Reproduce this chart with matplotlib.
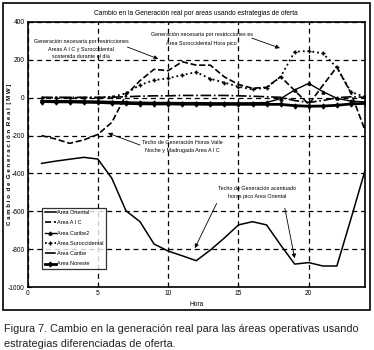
import matplotlib
matplotlib.use("Agg")
import matplotlib.pyplot as plt
from matplotlib.patches import Rectangle

plt.rcParams['axes.unicode_minus'] = False
plt.rcParams['font.family'] = ['Liberation Sans', 'DejaVu Sans']

hours = list(range(1, 25))
oriental = [-347, -335, -325, -315, -324, -426, -597, -655, -773, -810, -835, -861,
            -805, -741, -672, -655, -672, -778, -879, -871, -889, -889, -640, -385]
aic = [-200, -218, -241, -223, -194, -130, 14, 90, 150, 143, 190, 172,
       172, 110, 70, 50, 55, 111, 38, -35, 65, 162, 25, -172]
caribe2 = [-15, -16, -16, -17, -18, -20, -22, -24, -25, -25, -26, -26,
           -27, -27, -27, -27, -25, -5, 41, 76, 32, -3, -18, -22]
suroccidental = [0, 0, 0, 0, 0, 5, 23, 67, 93, 102, 120, 135,
                 100, 80, 58, 44, 52, 111, 243, 247, 234, 160, 30, 5]
caribe = [2, 2, 2, 2, 2, 3, 5, 8, 10, 10, 12, 12,
          12, 12, 10, 8, 5, 2, -15, -25, -15, 0, 5, 2]
noreste = [-20, -22, -22, -24, -25, -28, -30, -32, -33, -33, -34, -34,
           -35, -35, -35, -35, -35, -35, -42, -45, -44, -40, -33, -30]

series = [
    ("Area Oriental", oriental, dict(ls='-', lw=1.1)),
    ("Area A I C", aic, dict(ls='--', lw=1.2)),
    ("Area Caribe2", caribe2, dict(ls='-', lw=1.0, marker='^', ms=2.2)),
    ("Area Suroccidental", suroccidental, dict(ls=':', lw=1.3, marker='+', ms=3)),
    ("Area Caribe", caribe, dict(ls='-.', lw=1.2)),
    ("Area Noreste", noreste, dict(ls='-', lw=2.0, marker='d', ms=2.5)),
]

fig = plt.figure(figsize=(3.74, 3.5), dpi=100)
fig.patches.append(Rectangle((3/374, 1-310/350), 367/374, 307/350, transform=fig.transFigure,
                             fill=False, ec='black', lw=1.2))
ax = fig.add_axes([27.5/374, 1-287/350, 337.5/374, 265/350])

for name, vals, st in series:
    ax.plot(hours, vals, color='black', label=name, **st)

ax.set_xlim(0, 24)
ax.set_ylim(-1000, 400)
ax.set_xticks([0, 5, 10, 15, 20])
ax.set_yticks(list(range(-1000, 401, 200)))
ax.grid(True, color='black', ls=(0, (4, 3)), lw=0.9)
ax.tick_params(labelsize=4.8, length=2, direction='in', width=0.8, pad=2)
for s in ax.spines.values():
    s.set_linewidth(1.2)

ax.set_title("Cambio en la Generación real por areas usando estrategias de oferta",
             fontsize=4.8, pad=5)
ax.set_xlabel("Hora", fontsize=4.8, labelpad=3)
ylab = "  ".join(" ".join(w) for w in "Cambio de Generación Real [MW]".split())
fig.text(10/374, 1-154/350, ylab, fontsize=4.4, fontweight='bold', rotation=90,
         ha='center', va='center')

leg = ax.legend(loc='lower left', bbox_to_anchor=(0.043, 0.068), fontsize=4.0,
                frameon=True, fancybox=False, edgecolor='black', handlelength=2.0,
                borderpad=0.45, labelspacing=0.95, handletextpad=0.3, borderaxespad=0)
leg.get_frame().set_linewidth(0.9)

ap = dict(arrowstyle='-|>', color='black', lw=0.6, mutation_scale=6, shrinkA=0, shrinkB=0)
fs = 3.9
ax.text(3.8, 257, "Generación necesaria por restricciones\nAreas A I C y Suroccidental\nsostenida durante el día",
        fontsize=fs, ha='center', va='center', linespacing=1.7)
ax.annotate("", xy=(9.3, 205), xytext=(7.1, 268), arrowprops=ap)
ax.text(12.4, 310, "Generación necesaria por restricciones es\nÁrea Suroccidental Hora pico",
        fontsize=fs, ha='center', va='center', linespacing=1.7)
ax.annotate("", xy=(17.95, 262), xytext=(15.95, 315), arrowprops=ap)
ax.text(11.0, -258, "Techo de Generación Horas Valle\nNoche y Madrugada Area A I C",
        fontsize=fs, ha='center', va='center', linespacing=1.7)
ax.annotate("", xy=(5.72, -187), xytext=(8.0, -250), arrowprops=ap)
ax.text(16.3, -500, "Techo de Generación acentuado\nhoras pico Area Oriental",
        fontsize=fs, ha='center', va='center', linespacing=1.6)
ax.annotate("", xy=(11.9, -795), xytext=(13.45, -558), arrowprops=ap)
ax.annotate("", xy=(19.0, -848), xytext=(18.3, -584), arrowprops=ap)

cap_kw = dict(fontsize=7.8, ha='left', va='center', color='#222222')
fig.text(4/374, 1-329/350, "Figura 7. Cambio en la generación real para las áreas operativas usando", **cap_kw)
fig.text(4/374, 1-344/350, "estrategias diferenciadas de oferta.", **cap_kw)

fig.savefig("out.png", dpi=100)
